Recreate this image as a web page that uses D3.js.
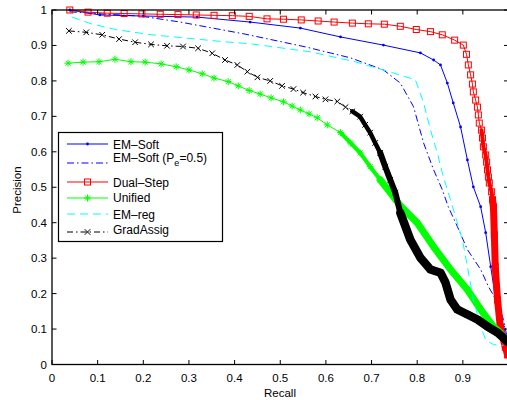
<!DOCTYPE html>
<html>
<head>
<meta charset="utf-8">
<script src="https://cdn.jsdelivr.net/npm/d3@7/dist/d3.min.js"></script>
<style>
  body { margin: 0; background: #fff; }
  text { font-family: "Liberation Sans", Arial, sans-serif; }
</style>
</head>
<body>
<div id="chart"></div>
<script>
// Recall / precision
const emSoftX = [0.039, 0.105, 0.200, 0.318, 0.434, 0.544, 0.632, 0.726, 0.807, 0.836, 0.851, 0.866, 0.879, 0.895, 0.910, 0.923, 0.939, 0.950, 0.961, 0.971, 0.989, 0.998];
const emSoftY = [1.000, 0.986, 0.983, 0.980, 0.966, 0.949, 0.924, 0.901, 0.879, 0.859, 0.845, 0.794, 0.738, 0.670, 0.577, 0.501, 0.445, 0.372, 0.276, 0.192, 0.107, 0.056];

const emSoftPeX = [0.039, 0.105, 0.193, 0.281, 0.423, 0.555, 0.654, 0.726, 0.763, 0.792, 0.814, 0.836, 0.855, 0.868, 0.888, 0.910, 0.939, 0.956, 0.976, 0.989, 0.998];
const emSoftPeY = [0.995, 0.989, 0.983, 0.966, 0.932, 0.896, 0.865, 0.831, 0.794, 0.727, 0.625, 0.549, 0.493, 0.445, 0.389, 0.324, 0.268, 0.220, 0.175, 0.127, 0.070];

const dualStepX = [0.039, 0.079, 0.121, 0.158, 0.197, 0.237, 0.276, 0.316, 0.355, 0.395, 0.432, 0.471, 0.507, 0.546, 0.583, 0.618, 0.658, 0.693, 0.728, 0.763, 0.798, 0.829, 0.855, 0.882, 0.901, 0.908,
  0.912, 0.917, 0.921, 0.923, 0.928, 0.932, 0.934, 0.936, 0.941, 0.943, 0.945, 0.950, 0.952, 0.954, 0.956, 0.958, 0.963, 0.965, 0.967, 0.969, 0.971, 0.976, 0.982, 0.993, 0.998];
const dualStepY = [1.000, 0.994, 0.991, 0.990, 0.989, 0.988, 0.987, 0.986, 0.985, 0.984, 0.982, 0.975, 0.974, 0.972, 0.969, 0.966, 0.963, 0.961, 0.960, 0.954, 0.945, 0.939, 0.930, 0.915, 0.901, 0.875,
  0.845, 0.817, 0.791, 0.769, 0.746, 0.726, 0.704, 0.681, 0.661, 0.639, 0.614, 0.591, 0.571, 0.549, 0.529, 0.512, 0.487, 0.465, 0.445, 0.366, 0.276, 0.182, 0.106, 0.049, 0.027];

const unifiedX = [0.035, 0.068, 0.103, 0.138, 0.173, 0.204, 0.239, 0.272, 0.300, 0.329, 0.355, 0.386, 0.408, 0.432, 0.456, 0.480, 0.507, 0.526, 0.544, 0.563, 0.581, 0.603, 0.632, 0.654, 0.675, 0.697, 0.719, 0.741, 0.763, 0.800, 0.836, 0.873, 0.910, 0.939, 0.967, 0.982, 0.996];
const unifiedY = [0.850, 0.853, 0.854, 0.861, 0.854, 0.853, 0.848, 0.840, 0.831, 0.820, 0.808, 0.798, 0.786, 0.773, 0.763, 0.752, 0.741, 0.729, 0.718, 0.707, 0.696, 0.676, 0.654, 0.625, 0.597, 0.558, 0.521, 0.485, 0.448, 0.400, 0.332, 0.268, 0.211, 0.155, 0.107, 0.090, 0.065];

const emRegX = [0.044, 0.086, 0.143, 0.219, 0.292, 0.373, 0.439, 0.566, 0.664, 0.741, 0.796, 0.814, 0.829, 0.844, 0.857, 0.873, 0.886, 0.899, 0.910, 0.923, 0.939, 0.950, 0.967, 0.989];
const emRegY = [0.980, 0.961, 0.944, 0.930, 0.921, 0.911, 0.904, 0.882, 0.854, 0.825, 0.803, 0.738, 0.662, 0.597, 0.530, 0.465, 0.408, 0.352, 0.276, 0.183, 0.107, 0.070, 0.056, 0.054];

const gradAssigX = [0.037, 0.075, 0.110, 0.147, 0.182, 0.217, 0.252, 0.287, 0.320, 0.351, 0.379, 0.406, 0.428, 0.450, 0.478, 0.504, 0.529, 0.550, 0.577, 0.599, 0.625, 0.643, 0.658, 0.675, 0.686, 0.697, 0.708, 0.719, 0.730, 0.741, 0.752, 0.763, 0.785, 0.807, 0.829, 0.851, 0.862, 0.873, 0.888, 0.910, 0.932, 0.954, 0.976, 0.998];
const gradAssigY = [0.941, 0.937, 0.930, 0.918, 0.909, 0.903, 0.899, 0.897, 0.892, 0.878, 0.859, 0.845, 0.826, 0.810, 0.800, 0.786, 0.777, 0.767, 0.756, 0.748, 0.742, 0.726, 0.714, 0.699, 0.676, 0.654, 0.625, 0.597, 0.558, 0.521, 0.485, 0.428, 0.352, 0.301, 0.268, 0.259, 0.231, 0.183, 0.155, 0.141, 0.127, 0.107, 0.090, 0.065];

const tickValues = [0, 0.1, 0.2, 0.3, 0.4, 0.5, 0.6, 0.7, 0.8, 0.9, 1];

const width = 507;
const height = 400;

const svg = d3.select("#chart")
  .append("svg")
  .attr("width", width)
  .attr("height", height);

// Scales (the right edge of the axes box falls just outside the window)
const x = d3.scaleLinear().domain([0, 1]).range([52, 508.5]);
const y = d3.scaleLinear().domain([0, 1]).range([364.5, 10]);

const fmt = d3.format("");

// Series styles; bands = [start index, width] where markers merge together
const series = [
  { name: "EM\u2013Soft", xs: emSoftX, ys: emSoftY, color: "#0000ff", dash: null, marker: "dot", bands: [], ly: 144, ty: 149 },
  { name: "pe", xs: emSoftPeX, ys: emSoftPeY, color: "#0000ff", dash: "7,3,1.5,3", marker: null, bands: [], ly: 163, ty: 162 },
  { name: "Dual\u2013Step", xs: dualStepX, ys: dualStepY, color: "#ff0000", dash: null, marker: "square", bands: [[34, 4], [43, 7]], ly: 182, ty: 187 },
  { name: "Unified", xs: unifiedX, ys: unifiedY, color: "#00ff00", dash: null, marker: "star", bands: [[22, 4], [26, 7]], ly: 198, ty: 202 },
  { name: "EM\u2013reg", xs: emRegX, ys: emRegY, color: "#00ffff", dash: "8,5", marker: null, bands: [], ly: 214, ty: 219 },
  { name: "GradAssig", xs: gradAssigX, ys: gradAssigY, color: "#000000", dash: "6,3,1.5,3", marker: "cross", bands: [[22, 4.5], [27, 6], [31, 8.5]], ly: 232, ty: 234 }
];

function drawMarker(g, type, cx, cy, color) {
  if (type === "dot") {
    g.append("circle").attr("cx", cx).attr("cy", cy).attr("r", 1.4).attr("fill", color);
  } else if (type === "square") {
    g.append("rect").attr("x", cx - 3).attr("y", cy - 3).attr("width", 6).attr("height", 6)
      .attr("fill", "none").attr("stroke", color).attr("stroke-width", 1);
  } else if (type === "star") {
    const r = 3.5, d = r * 0.7071;
    g.append("path")
      .attr("d", `M${cx - r},${cy}L${cx + r},${cy}M${cx},${cy - r}L${cx},${cy + r}M${cx - d},${cy - d}L${cx + d},${cy + d}M${cx - d},${cy + d}L${cx + d},${cy - d}`)
      .attr("stroke", color).attr("stroke-width", 1).attr("fill", "none");
  } else if (type === "cross") {
    const r = 2.8;
    g.append("path")
      .attr("d", `M${cx - r},${cy - r}L${cx + r},${cy + r}M${cx - r},${cy + r}L${cx + r},${cy - r}`)
      .attr("stroke", color).attr("stroke-width", 1).attr("fill", "none");
  }
}

const line = d3.line().x(d => x(d[0])).y(d => y(d[1]));

const plot = svg.append("g");

series.forEach(s => {
  const pts = s.xs.map((v, i) => [v, s.ys[i]]);
  const g = plot.append("g");

  // dense tail: markers so close that they merge into a band
  s.bands.forEach(([start, w]) => {
    g.append("path")
      .attr("d", line(pts.slice(start)))
      .attr("fill", "none")
      .attr("stroke", s.color)
      .attr("stroke-width", w)
      .attr("stroke-linejoin", "round")
      .attr("stroke-linecap", "round");
  });

  g.append("path")
    .attr("d", line(pts))
    .attr("fill", "none")
    .attr("stroke", s.color)
    .attr("stroke-width", 1)
    .attr("stroke-dasharray", s.dash);

  if (s.marker) {
    pts.forEach(p => drawMarker(g, s.marker, x(p[0]), y(p[1]), s.color));
  }
});

// Axes box with inward ticks on all four sides
const axisG = svg.append("g").attr("stroke", "#000").attr("stroke-width", 1.3).attr("fill", "none");
axisG.append("rect")
  .attr("x", x(0)).attr("y", y(1))
  .attr("width", x(1) - x(0)).attr("height", y(0) - y(1));

tickValues.forEach(t => {
  axisG.append("line").attr("x1", x(t)).attr("x2", x(t)).attr("y1", y(0)).attr("y2", y(0) - 4.5).attr("stroke-width", 1);
  axisG.append("line").attr("x1", x(t)).attr("x2", x(t)).attr("y1", y(1)).attr("y2", y(1) + 4.5).attr("stroke-width", 1);
  axisG.append("line").attr("x1", x(0)).attr("x2", x(0) + 4.5).attr("y1", y(t)).attr("y2", y(t)).attr("stroke-width", 1);
  axisG.append("line").attr("x1", x(1)).attr("x2", x(1) - 4.5).attr("y1", y(t)).attr("y2", y(t)).attr("stroke-width", 1);
});

// Tick labels
svg.append("g").selectAll("text")
  .data(tickValues.filter(t => t < 1))
  .enter()
  .append("text")
  .attr("x", d => x(d))
  .attr("y", 382)
  .attr("text-anchor", "middle")
  .attr("font-size", 11.5)
  .text(d => fmt(d));

svg.append("g").selectAll("text")
  .data(tickValues)
  .enter()
  .append("text")
  .attr("x", 47)
  .attr("y", d => y(d) + 4)
  .attr("text-anchor", "end")
  .attr("font-size", 11.5)
  .text(d => fmt(d));

// Axis titles
svg.append("text")
  .attr("x", 280).attr("y", 397)
  .attr("text-anchor", "middle")
  .attr("font-size", 11.5)
  .text("Recall");

svg.append("text")
  .attr("transform", "translate(21,190) rotate(-90)")
  .attr("text-anchor", "middle")
  .attr("font-size", 11.5)
  .text("Precision");

// Legend
const legend = svg.append("g");
legend.append("rect")
  .attr("x", 58.5).attr("y", 132.5)
  .attr("width", 164).attr("height", 109)
  .attr("fill", "#fff")
  .attr("stroke", "#000")
  .attr("stroke-width", 1.2);

series.forEach(s => {
  legend.append("line")
    .attr("x1", 67).attr("x2", 108)
    .attr("y1", s.ly).attr("y2", s.ly)
    .attr("stroke", s.color)
    .attr("stroke-width", 1)
    .attr("stroke-dasharray", s.dash);
  if (s.marker) drawMarker(legend, s.marker, 87.5, s.ly, s.color);

  const t = legend.append("text")
    .attr("x", 113).attr("y", s.ty)
    .attr("font-size", 12);
  if (s.name === "pe") {
    t.append("tspan").text("EM\u2013Soft (P");
    t.append("tspan").attr("dy", 4).attr("font-size", 9).text("e");
    t.append("tspan").attr("dy", -4).text("=0.5)");
  } else {
    t.text(s.name);
  }
});
</script>
</body>
</html>
